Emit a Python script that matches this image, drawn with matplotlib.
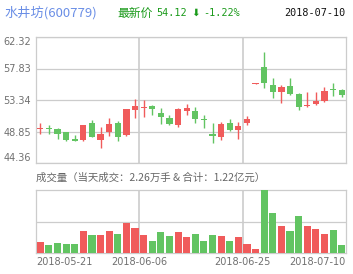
import matplotlib
matplotlib.use("Agg")
import matplotlib.pyplot as plt

plt.rcParams['font.family'] = ['Noto Sans CJK SC', 'DejaVu Sans']

# 交易日
dates = ['2018-05-21', '2018-05-22', '2018-05-23', '2018-05-24', '2018-05-25',
         '2018-05-28', '2018-05-29', '2018-05-30', '2018-05-31', '2018-06-01',
         '2018-06-04', '2018-06-05', '2018-06-06', '2018-06-07', '2018-06-08',
         '2018-06-11', '2018-06-12', '2018-06-13', '2018-06-14', '2018-06-15',
         '2018-06-19', '2018-06-20', '2018-06-21', '2018-06-22', '2018-06-25',
         '2018-06-26', '2018-06-27', '2018-06-28', '2018-06-29', '2018-07-02',
         '2018-07-03', '2018-07-04', '2018-07-05', '2018-07-06', '2018-07-09',
         '2018-07-10']

opens = [49.22, 49.32, 49.23, 48.75, 47.80, 47.61, 50.00, 47.61, 48.80, 50.00,
         48.28, 51.91, 52.15, 52.53, 51.43, 50.81, 49.76, 51.76, 51.81, 50.57,
         48.56, 48.08, 50.00, 49.04, 50.00, 55.66, 58.02, 55.49, 54.53, 55.35,
         54.15, 52.50, 52.77, 53.24, 54.92, 54.70]
highs = [50.00, 49.76, 49.30, 48.85, 48.42, 49.76, 50.47, 49.52, 50.71, 50.33,
         52.10, 53.43, 53.34, 52.67, 52.15, 51.19, 52.15, 52.77, 52.29, 51.19,
         50.00, 50.19, 50.62, 50.23, 51.05, 55.78, 60.22, 56.54, 55.49, 56.54,
         54.30, 54.44, 54.44, 55.15, 55.82, 54.92]
lows = [48.56, 48.56, 47.85, 47.46, 47.46, 47.56, 48.00, 46.56, 48.18, 47.46,
        48.18, 50.71, 50.85, 51.19, 49.85, 49.76, 49.52, 51.19, 50.00, 49.42,
        47.22, 47.70, 48.90, 47.75, 49.76, 55.62, 55.01, 53.67, 52.86, 54.06,
        51.91, 52.40, 52.62, 53.10, 53.96, 53.82]
closes = [49.30, 49.25, 48.56, 47.61, 47.56, 49.71, 48.08, 48.56, 49.90, 48.08,
          52.00, 52.43, 52.30, 52.00, 50.95, 49.90, 52.00, 52.14, 50.62, 50.42,
          48.18, 49.85, 49.04, 49.61, 50.66, 55.73, 55.73, 54.49, 55.25, 54.20,
          52.38, 52.62, 53.24, 54.63, 54.79, 54.12]

# 成交量（万手）
volumes = [3.11, 2.36, 2.92, 2.45, 2.54, 6.21, 5.08, 5.17, 6.21, 5.46,
           8.48, 7.07, 4.99, 3.49, 5.84, 4.80, 6.03, 4.42, 5.28, 3.29,
           4.99, 4.71, 3.38, 4.53, 2.63, 1.22, 17.90, 11.40, 7.73, 6.32,
           10.54, 7.54, 6.96, 5.28, 6.41, 2.26]

price_ticks = [44.36, 48.85, 53.34, 57.83, 62.32]
date_ticks = [0, 12, 24, 36]
date_labels = [dates[0], dates[12], dates[24], dates[-1]]

RED = '#f05b5b'
GREEN = '#62c462'
GRID = '#cccccc'
TXT = '#707070'

W, H = 353, 274
fig = plt.figure(figsize=(W / 100, H / 100), dpi=100)


def px_box(x0, y0, x1, y1):
    return [x0 / W, 1 - y1 / H, (x1 - x0) / W, (y1 - y0) / H]


def style_axes(ax):
    for s in ax.spines.values():
        s.set_color(GRID)
        s.set_linewidth(0.9)
    ax.set_xlim(0, len(dates))
    for x in date_ticks[1:-1]:
        ax.axvline(x, color=GRID, lw=1.2, zorder=0)
    ax.tick_params(length=0)


colors = [RED if c >= o else GREEN for o, c in zip(opens, closes)]
xs = [i + 0.5 for i in range(len(dates))]

# K线
ax1 = fig.add_axes(px_box(36, 37, 346, 163))
style_axes(ax1)
ax1.set_ylim(price_ticks[0], price_ticks[-1])
ax1.set_yticks(price_ticks)
ax1.set_yticklabels(['%.2f' % t for t in price_ticks], fontsize=7,
                    color=TXT, family='DejaVu Sans')
ax1.yaxis.grid(True, color=GRID, lw=0.9)
ax1.set_axisbelow(True)
ax1.set_xticks([])
labels = ax1.get_yticklabels()
labels[0].set_verticalalignment('bottom')
labels[-1].set_verticalalignment('top')

ax1.vlines(xs, lows, highs, colors=colors, lw=1.0, zorder=2)
bottoms = [min(o, c) for o, c in zip(opens, closes)]
heights = [max(abs(c - o), 0.14) for o, c in zip(opens, closes)]
ax1.bar(xs, heights, bottom=bottoms, width=0.72, color=colors, zorder=3)

# 成交量
ax2 = fig.add_axes(px_box(36, 190, 346, 253))
style_axes(ax2)
ax2.set_ylim(0, max(volumes))
ax2.set_yticks([max(volumes) / 2])
ax2.set_yticklabels([])
ax2.yaxis.grid(True, color=GRID, lw=0.9)
ax2.set_axisbelow(True)
ax2.bar(xs, volumes, width=0.82, color=colors, zorder=3)
ax2.set_xticks(date_ticks)
ax2.set_xticklabels(date_labels, fontsize=7, color=TXT, family='DejaVu Sans')
ax2.tick_params(axis='x', pad=3)
xl = ax2.get_xticklabels()
xl[0].set_horizontalalignment('left')
xl[-1].set_horizontalalignment('right')

# 标题
def fy(y):
    return 1 - y / H


fig.text(4 / W, fy(13), '水井坊(600779)', fontsize=9.5, color='#6a8ee6', va='center')
fig.text(117 / W, fy(13), '最新价', fontsize=8.5, color='#1a9a1a', va='center')
fig.text(156 / W, fy(13), '54.12', fontsize=7.3, color='#1a9a1a', va='center',
         family='DejaVu Sans Mono')
fig.text(191 / W, fy(13), '⬇', fontsize=7.5, color='#1a9a1a', va='center',
         family='DejaVu Sans')
fig.text(203 / W, fy(13), '-1.22%', fontsize=7.3, color='#1a9a1a', va='center',
         family='DejaVu Sans Mono')
fig.text(345 / W, fy(13), '2018-07-10', fontsize=7.3, color='#111111', va='center',
         ha='right', family='DejaVu Sans Mono')
fig.text(36 / W, fy(178), '成交量（当天成交：2.26万手 & 合计：1.22亿元）',
         fontsize=7.5, color='#666666', va='center')

fig.savefig('out.png', dpi=100)
